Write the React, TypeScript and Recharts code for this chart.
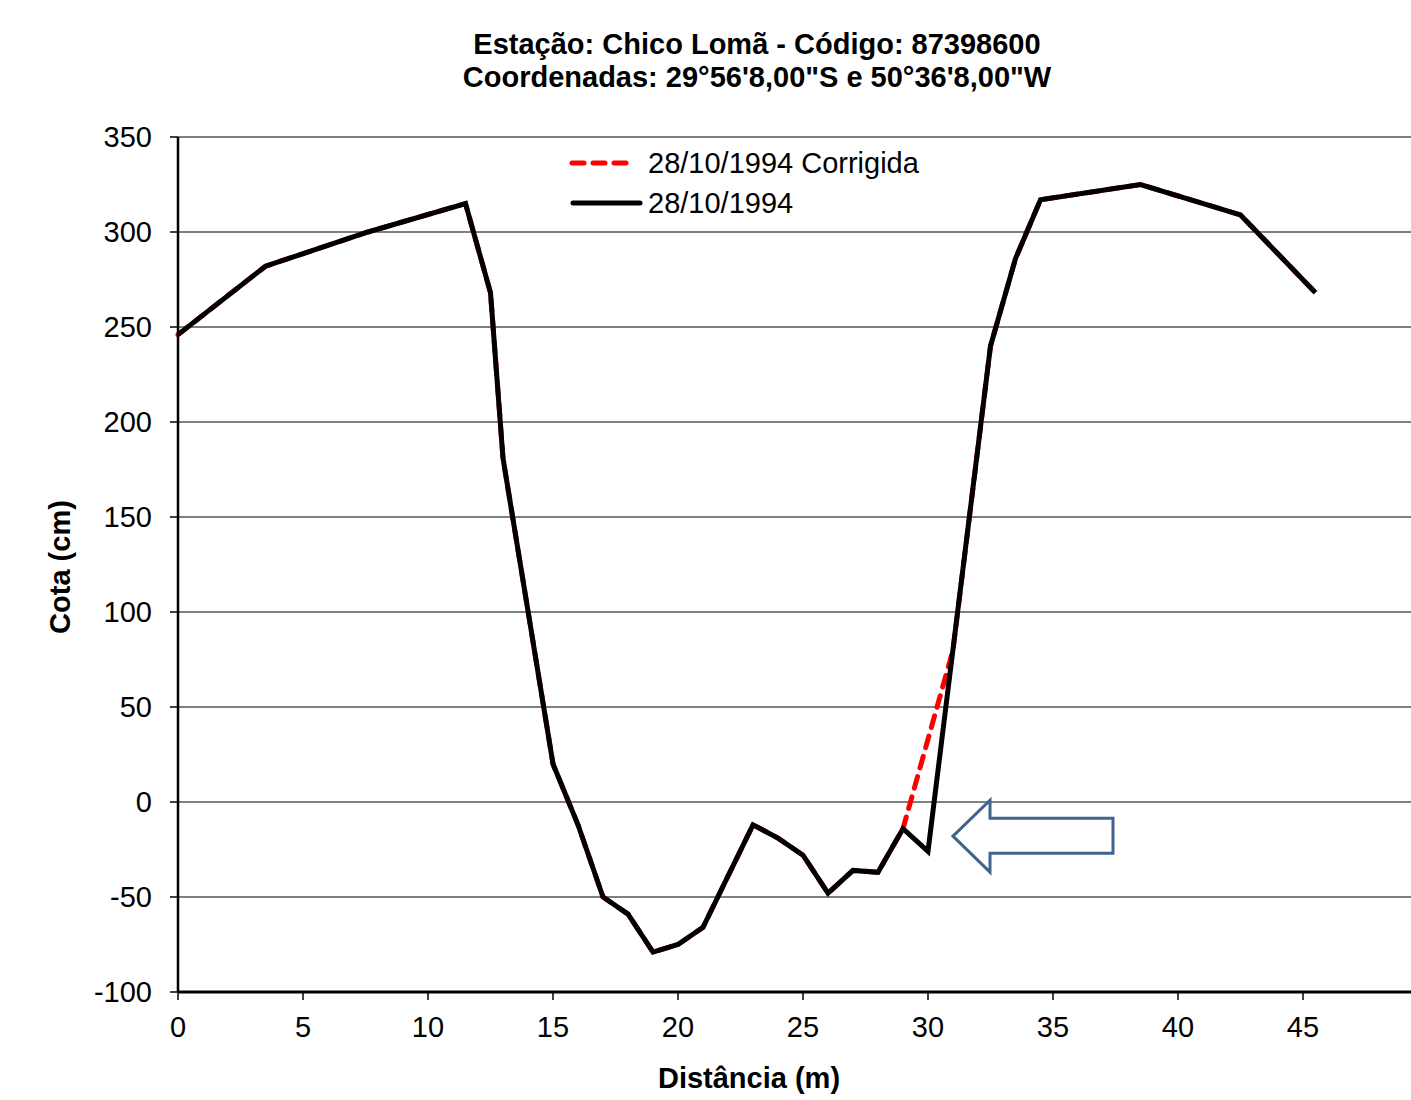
import { LineChart, Line, XAxis, YAxis, CartesianGrid, Legend, ReferenceDot } from 'recharts';

// levantamento 28/10/1994
const distancia = [0, 3.5, 7.6, 11.5, 12.5, 13, 15, 16, 17, 18, 19, 20, 21, 23, 24, 25, 26, 27, 28, 29, 30, 32.5, 33.5, 34.5, 38.5, 42.5, 45.5];
const cota = [246, 282, 300, 315, 268, 181, 20, -12, -50, -59, -79, -75, -66, -12, -19, -28, -48, -36, -37, -14, -26, 240, 286, 317, 325, 309, 268];

// perfil corrigido (ponto de 30 m substituido)
const distanciaCorrigida = [0, 3.5, 7.6, 11.5, 12.5, 13, 15, 16, 17, 18, 19, 20, 21, 23, 24, 25, 26, 27, 28, 29, 31, 32.5, 33.5, 34.5, 38.5, 42.5, 45.5];
const cotaCorrigida = [246, 282, 300, 315, 268, 181, 20, -12, -50, -59, -79, -75, -66, -12, -19, -28, -48, -36, -37, -14, 80, 240, 286, 317, 325, 309, 268];

const xTicks = [0, 5, 10, 15, 20, 25, 30, 35, 40, 45];
const yTicks = [-100, -50, 0, 50, 100, 150, 200, 250, 300, 350];

const FONT = '"Liberation Sans", Arial, sans-serif';

const original = distancia.map((x, i) => ({ x, y: cota[i] }));
const corrigida = distanciaCorrigida.map((x, i) => ({ x, y: cotaCorrigida[i] }));

const LegendBox = () => (
  <svg width={380} height={80} style={{ display: 'block' }}>
    <line x1={4} y1={18} x2={64} y2={18} stroke="#ff0000" strokeWidth={5} strokeDasharray="12 9" strokeLinecap="round" />
    <text x={80} y={28} fontSize={29} fill="#000" fontFamily={FONT}>28/10/1994 Corrigida</text>
    <line x1={5} y1={58} x2={72} y2={58} stroke="#000" strokeWidth={5} strokeLinecap="round" />
    <text x={80} y={68} fontSize={29} fill="#000" fontFamily={FONT}>28/10/1994</text>
  </svg>
);

const Arrow = ({ cx, cy }: any) => {
  if (cx == null || cy == null) return null;
  const pts = [
    [0, 0], [37, -36], [37, -18], [160, -18], [160, 17], [37, 17], [37, 36],
  ].map(([dx, dy]) => `${cx + dx},${cy + dy}`).join(' ');
  return <polygon points={pts} fill="#fff" stroke="#41638f" strokeWidth={3} />;
};

export default function App() {
  return (
    <div style={{ position: 'absolute', left: 0, top: 0, width: 1411, height: 1100, background: '#fff', fontFamily: FONT, overflow: 'hidden' }}>
      <div style={{ position: 'absolute', left: 257, top: 28, width: 1000, textAlign: 'center', fontSize: 29, fontWeight: 'bold', lineHeight: '33px', color: '#000' }}>
        Estação: Chico Lomã - Código: 87398600<br />
        Coordenadas: 29°56'8,00"S e 50°36'8,00"W
      </div>

      <LineChart width={1411} height={1100} data={original} margin={{ top: 137, right: 0, bottom: 48, left: 78 }}>
        <CartesianGrid horizontal vertical={false} stroke="#000" strokeWidth={1} />
        <XAxis
          type="number"
          dataKey="x"
          domain={[0, 49.32]}
          ticks={xTicks}
          height={60}
          tick={{ fill: '#000', fontSize: 29, fontFamily: FONT }}
          tickSize={8}
          tickMargin={16}
          axisLine={{ stroke: '#000', strokeWidth: 3 }}
          tickLine={{ stroke: '#000', strokeWidth: 1.5 }}
        />
        <YAxis
          type="number"
          domain={[-100, 350]}
          ticks={yTicks}
          width={100}
          tick={{ fill: '#000', fontSize: 29, fontFamily: FONT }}
          tickSize={8}
          tickMargin={18}
          axisLine={{ stroke: '#000', strokeWidth: 2.5 }}
          tickLine={{ stroke: '#000', strokeWidth: 1.5 }}
        />
        <Legend
          layout="horizontal"
          verticalAlign="middle"
          align="center"
          content={<LegendBox />}
          wrapperStyle={{ position: 'absolute', left: 568, top: 145, width: 380 }}
        />
        <Line
          data={corrigida}
          dataKey="y"
          name="28/10/1994 Corrigida"
          stroke="#ff0000"
          strokeWidth={5}
          strokeDasharray="12 9"
          strokeLinecap="round"
          dot={false}
          activeDot={false}
          isAnimationActive={false}
        />
        <Line
          data={original}
          dataKey="y"
          name="28/10/1994"
          stroke="#000"
          strokeWidth={5}
          dot={false}
          activeDot={false}
          isAnimationActive={false}
        />
        <ReferenceDot x={31} y={-18} shape={(p: any) => <Arrow {...p} />} />
      </LineChart>

      <div style={{ position: 'absolute', left: 549, top: 1060, width: 400, textAlign: 'center', fontSize: 29, fontWeight: 'bold', lineHeight: '36px', color: '#000' }}>
        Distância (m)
      </div>
      <div style={{ position: 'absolute', left: 60 - 150, top: 567 - 18, width: 300, textAlign: 'center', fontSize: 29, fontWeight: 'bold', lineHeight: '36px', color: '#000', transform: 'rotate(-90deg)' }}>
        Cota (cm)
      </div>
    </div>
  );
}
